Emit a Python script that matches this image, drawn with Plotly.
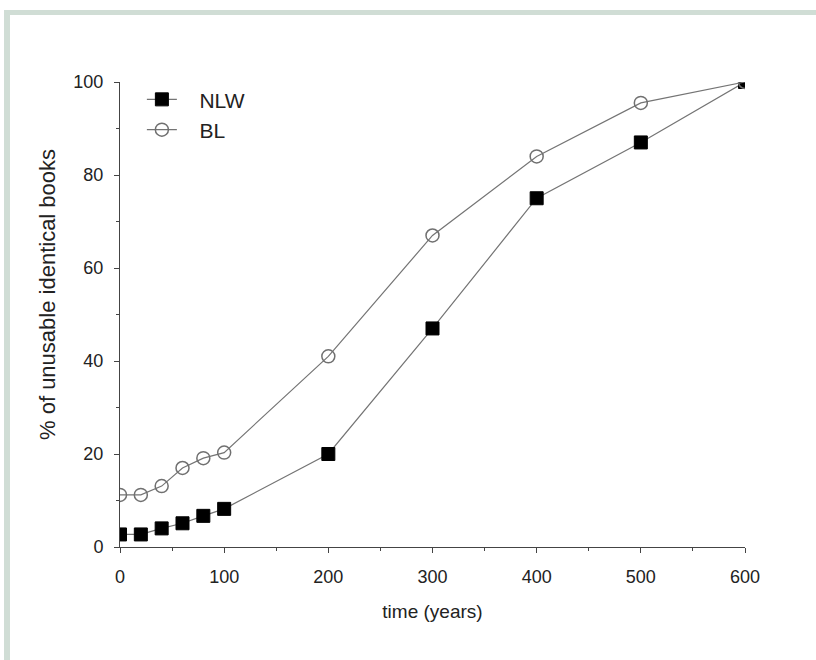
import plotly.graph_objects as go

# Time since start (years) and share of identical books judged unusable (%)
years = [0, 20, 40, 60, 80, 100, 200, 300, 400, 500, 600]
nlw = [2.7, 2.7, 4.0, 5.1, 6.7, 8.2, 20, 47, 75, 87, 100]
bl = [11.2, 11.2, 13.1, 17, 19.1, 20.3, 41, 67, 84, 95.5, 100]

x_ticks = [0, 100, 200, 300, 400, 500, 600]
y_ticks = [0, 20, 40, 60, 80, 100]

W, H = 816, 660
L, R, T, B = 120, 71, 82, 113  # plot area margins in px

FONT = "Liberation Sans, Arial, sans-serif"
PAD = "\u00a0\u00a0\u00a0"  # spacing between legend symbol and label


def px_to_paper(px, py):
    return (px - L) / (W - L - R), (H - B - py) / (H - T - B)


fig = go.Figure()

fig.add_trace(go.Scatter(
    x=years, y=nlw, name=PAD + "NLW", mode="lines+markers",
    legendgroup="a",
    line=dict(color="#747474", width=1.2),
    marker=dict(symbol="square", size=13, color="#000000",
                line=dict(color="#000000", width=1)),
    cliponaxis=True,
))
fig.add_trace(go.Scatter(
    x=years, y=bl, name=PAD + "BL", mode="lines+markers",
    legendgroup="b",
    line=dict(color="#747474", width=1.2),
    marker=dict(symbol="circle-open", size=13, color="#707070",
                line=dict(color="#707070", width=1.5)),
    cliponaxis=True,
))

# Light frame around the figure (top and left edges visible)
x0, y0 = px_to_paper(4, 10)
x1, y1 = px_to_paper(900, 760)
fig.add_shape(type="rect", xref="paper", yref="paper",
              x0=x0, y0=y1, x1=x1, y1=y0,
              fillcolor="#d0ddd5", line=dict(width=0), layer="below")
x0, y0 = px_to_paper(10, 15)
fig.add_shape(type="rect", xref="paper", yref="paper",
              x0=x0, y0=y1, x1=x1, y1=y0,
              fillcolor="#ffffff", line=dict(width=0), layer="below")

# Y-axis title
tx, ty = px_to_paper(47, 295)
fig.add_annotation(
    xref="paper", yref="paper", x=tx, y=ty,
    text="% of unusable identical books", textangle=-90,
    showarrow=False, xanchor="center", yanchor="middle",
    font=dict(family=FONT, size=22, color="#222222"),
)

axis_font = dict(family=FONT, size=18, color="#222222")

fig.update_layout(
    width=W, height=H,
    margin=dict(l=L, r=R, t=T, b=B),
    paper_bgcolor="#ffffff",
    plot_bgcolor="rgba(0,0,0,0)",
    showlegend=True,
    legend=dict(
        x=0.035, y=1.006, xanchor="left", yanchor="top",
        bgcolor="rgba(0,0,0,0)",
        font=dict(family=FONT, size=21, color="#222222"),
        traceorder="grouped", tracegroupgap=0,
        itemsizing="trace",
    ),
    xaxis=dict(
        range=[0, 600], tickvals=x_ticks, ticktext=[str(v) for v in x_ticks],
        showgrid=False, zeroline=False,
        showline=True, linecolor="#444444", linewidth=1,
        ticks="outside", ticklen=5, tickcolor="#444444",
        minor=dict(ticks="outside", ticklen=3, dtick=50, tickcolor="#444444", showgrid=False),
        tickfont=axis_font, ticklabelstandoff=8,
        title=dict(text="time (years)", font=dict(family=FONT, size=19, color="#222222"),
                   standoff=19),
    ),
    yaxis=dict(
        range=[0, 100], tickvals=y_ticks, ticktext=[str(v) for v in y_ticks],
        showgrid=False, zeroline=False,
        showline=True, linecolor="#444444", linewidth=1,
        ticks="outside", ticklen=5, tickcolor="#444444",
        minor=dict(ticks="outside", ticklen=3, dtick=10, tickcolor="#444444", showgrid=False),
        tickfont=axis_font, ticklabelstandoff=7,
    ),
)

fig.write_html("out.html")
